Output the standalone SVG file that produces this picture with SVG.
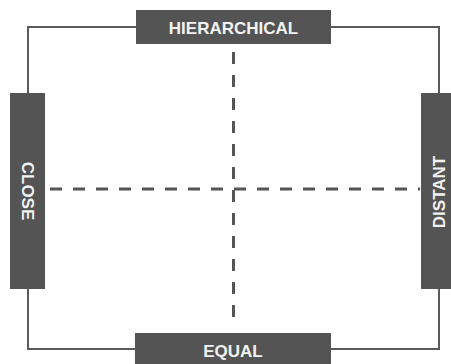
<svg xmlns="http://www.w3.org/2000/svg" width="451" height="364" viewBox="0 0 451 364">
<style>
.box{fill:#545454}
.lbl{font-family:"Liberation Sans",Arial,sans-serif;font-weight:bold;font-size:17px;fill:#f2f2f2;text-anchor:middle;dominant-baseline:central}
.frame{fill:none;stroke:#5a5a5a;stroke-width:2}
.dash{fill:none;stroke:#555;stroke-width:3;stroke-dasharray:12 11;stroke-linecap:butt}
</style>
<rect width="451" height="364" fill="#fff"/>
<g id="connectors">
<rect class="frame" x="28" y="27" width="411" height="322"/>
<line class="dash" x1="233.5" y1="52" x2="233.5" y2="324"/>
<line class="dash" x1="50" y1="189" x2="420" y2="189"/>
</g>
<g id="hierarchical"><rect class="box" x="136" y="10" width="195" height="34"/><text class="lbl" x="233.5" y="28">HIERARCHICAL</text></g>
<g id="equal"><rect class="box" x="135" y="333" width="196" height="31"/><text class="lbl" x="233" y="351">EQUAL</text></g>
<g id="close"><rect class="box" x="10" y="93" width="35" height="196"/><text class="lbl" transform="translate(27 191) rotate(90)">CLOSE</text></g>
<g id="distant"><rect class="box" x="421" y="93" width="30" height="196"/><text class="lbl" transform="translate(439 192) rotate(-90)">DISTANT</text></g>
</svg>
